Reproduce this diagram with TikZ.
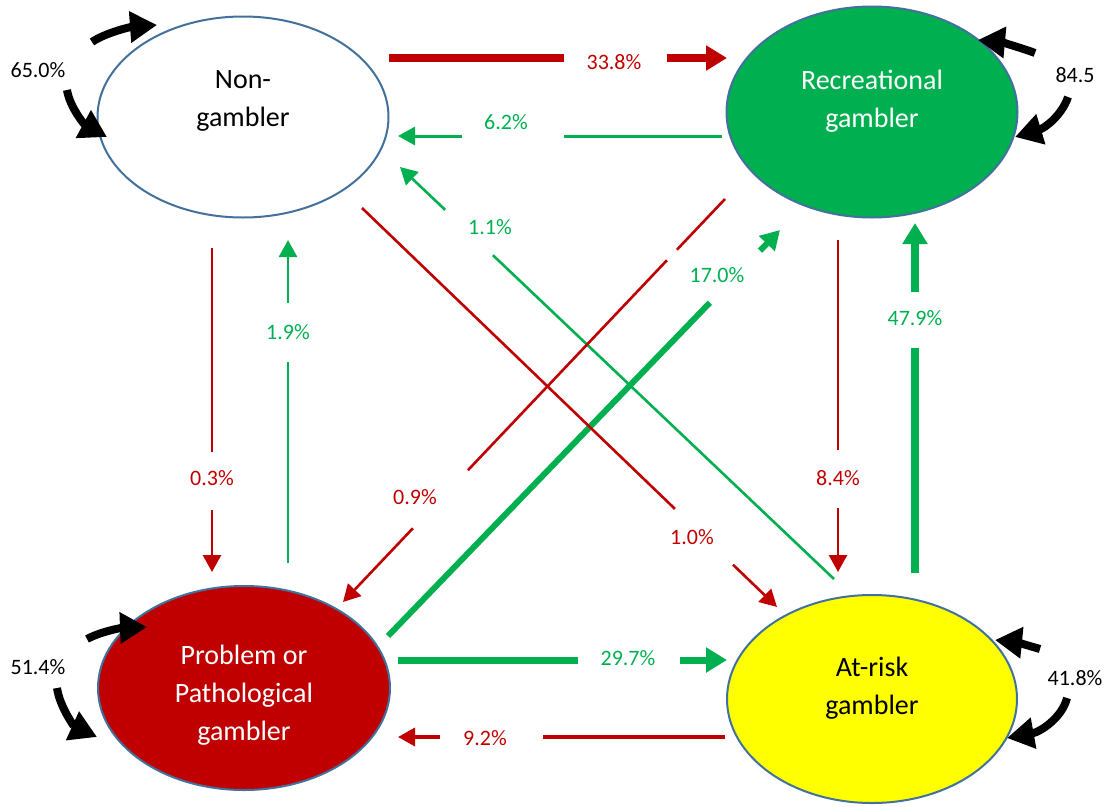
\documentclass[tikz,border=0pt]{standalone}
\usepackage{fontspec}
\setmainfont{Carlito}
\usetikzlibrary{arrows.meta,calc,shapes.geometric}
\definecolor{cred}{HTML}{C00000}
\definecolor{cgreen}{HTML}{00B050}
\definecolor{cyel}{HTML}{FFFF00}
\definecolor{cbord}{HTML}{41719C}
\newcommand\gapline[6]{%
  \draw[#1] (#3) -- ($(#3)!#5!(#4)$);
  \draw[#1,#2] ($(#3)!#6!(#4)$) -- (#4);}
\begin{document}
\begin{tikzpicture}[x=1pt,y=-1pt,
  state/.style={ellipse, draw=cbord, line width=2pt, inner sep=0pt},
  ntext/.style={font=\fontsize{28}{38}\selectfont, align=center, inner sep=0pt},
  lbl/.style={font=\fontsize{22}{26}\selectfont, inner sep=1pt},
  tipS/.style={-{Triangle[length=17pt,width=18pt]}},
  tipM/.style={-{Triangle[length=19pt,width=21pt]}},
  tipL/.style={-{Triangle[length=21pt,width=24pt]}},
  loopar/.style={line width=8pt, -{Triangle[length=27pt,width=30pt]}}
]
\useasboundingbox (0,0) rectangle (1113,806);

% states
\node[state, fill=white, minimum width=291pt, minimum height=201pt] (ng) at (243,117) {};
\node[ntext] (ngt) at (243,101) {Non-\\gambler};
\node[state, fill=cgreen, minimum width=291pt, minimum height=211pt] (rec) at (872,112) {};
\node[ntext, text=white] (rect) at (872,101) {Recreational\\gambler};
\node[state, fill=cred, minimum width=292pt, minimum height=204pt] (pp) at (244,688) {};
\node[ntext, text=white] (ppt) at (244,695) {Problem or\\Pathological\\gambler};
\node[state, fill=cyel, minimum width=290pt, minimum height=208pt] (ar) at (872,699) {};
\node[ntext] (art) at (872,688) {At-risk\\gambler};

% connector end points
\coordinate (a1s) at (389,58);  \coordinate (a1e) at (727,58);
\coordinate (a2s) at (722,136); \coordinate (a2e) at (398,136);
\coordinate (a3s) at (834,579); \coordinate (a3e) at (400,167);
\coordinate (a4s) at (388,636); \coordinate (a4e) at (780,230);
\coordinate (a5s) at (725,199); \coordinate (a5e) at (343,602);
\coordinate (a6s) at (362,208); \coordinate (a6e) at (777,607);
\coordinate (a7s) at (212,248); \coordinate (a7e) at (212,572);
\coordinate (a8s) at (288,563); \coordinate (a8e) at (288,240);
\coordinate (a9s) at (838,240); \coordinate (a9e) at (838,572);
\coordinate (a10s) at (915,573); \coordinate (a10e) at (915,223);
\coordinate (a11s) at (398,660); \coordinate (a11e) at (727,660);
\coordinate (a12s) at (725,737); \coordinate (a12e) at (398,737);

% connectors
\gapline{cred, line width=8pt}{tipL}{a1s}{a1e}{0.518}{0.822}
\gapline{cgreen, line width=3pt}{tipS}{a2s}{a2e}{0.488}{0.802}
\gapline{cgreen, line width=2.6pt}{tipS}{a3s}{a3e}{0.786}{0.896}
\gapline{cgreen, line width=6pt}{tipM}{a4s}{a4e}{0.821}{0.949}
\draw[cred, line width=2.6pt] (a5s) -- ($(a5s)!0.126!(a5e)$);
\draw[cred, line width=2.6pt] ($(a5s)!0.152!(a5e)$) -- ($(a5s)!0.673!(a5e)$);
\draw[cred, line width=2.6pt, tipS] ($(a5s)!0.817!(a5e)$) -- (a5e);
\gapline{cred, line width=2.6pt}{tipS}{a6s}{a6e}{0.754}{0.894}
\gapline{cred, line width=2.6pt}{tipS}{a7s}{a7e}{0.630}{0.809}
\gapline{cgreen, line width=2.6pt}{tipS}{a8s}{a8e}{0.622}{0.805}
\gapline{cred, line width=2.6pt}{tipS}{a9s}{a9e}{0.633}{0.807}
\gapline{cgreen, line width=7.5pt}{tipL}{a10s}{a10e}{0.643}{0.803}
\gapline{cgreen, line width=7pt}{tipL}{a11s}{a11e}{0.547}{0.857}
\gapline{cred, line width=3.5pt}{tipS}{a12s}{a12e}{0.557}{0.872}

% labels
\node[lbl, text=cred] (l1) at (614,62) {33.8\%};
\node[lbl, text=cgreen] (l2) at (506,122) {6.2\%};
\node[lbl, text=cgreen] (l3) at (490,227) {1.1\%};
\node[lbl, text=cgreen] (l4) at (717,275) {17.0\%};
\node[lbl, text=cred] (l5) at (415,497) {0.9\%};
\node[lbl, text=cred] (l6) at (692,537) {1.0\%};
\node[lbl, text=cred] (l7) at (212,478) {0.3\%};
\node[lbl, text=cgreen] (l8) at (288,332) {1.9\%};
\node[lbl, text=cred] (l9) at (838,478) {8.4\%};
\node[lbl, text=cgreen] (l10) at (915,318) {47.9\%};
\node[lbl, text=cgreen] (l11) at (628,658) {29.7\%};
\node[lbl, text=cred] (l12) at (485,738) {9.2\%};

% self loops
\node[lbl] (s1) at (38,70) {65.0\%};
\node[lbl] (s2) at (1075,75) {84.5};
\node[lbl] (s3) at (1075,678) {41.8\%};
\node[lbl] (s4) at (38,667) {51.4\%};
\coordinate (n1a) at (92,42);   \coordinate (n1b) at (157,25);
\coordinate (n2a) at (67,90);   \coordinate (n2b) at (107,137);
\coordinate (r1a) at (1035,53); \coordinate (r1b) at (978,40);
\coordinate (r2a) at (1068,97); \coordinate (r2b) at (1015,137);
\coordinate (t1a) at (1040,649); \coordinate (t1b) at (995,640);
\coordinate (t2a) at (1067,698); \coordinate (t2b) at (1007,738);
\coordinate (p1a) at (87,639);  \coordinate (p1b) at (147,627);
\coordinate (p2a) at (57,688);  \coordinate (p2b) at (97,737);
\draw[loopar] (n1a) .. controls (105,33) and (130,27) .. (n1b);
\draw[loopar] (n2a) .. controls (70,108) and (85,125) .. (n2b);
\draw[loopar] (r1a) .. controls (1022,48) and (1000,42) .. (r1b);
\draw[loopar] (r2a) .. controls (1062,115) and (1045,128) .. (r2b);
\draw[loopar] (t1a) .. controls (1030,646) and (1015,642) .. (t1b);
\draw[loopar] (t2a) .. controls (1062,718) and (1040,732) .. (t2b);
\draw[loopar] (p1a) .. controls (100,632) and (120,628) .. (p1b);
\draw[loopar] (p2a) .. controls (60,708) and (75,727) .. (p2b);
\end{tikzpicture}
\end{document}
